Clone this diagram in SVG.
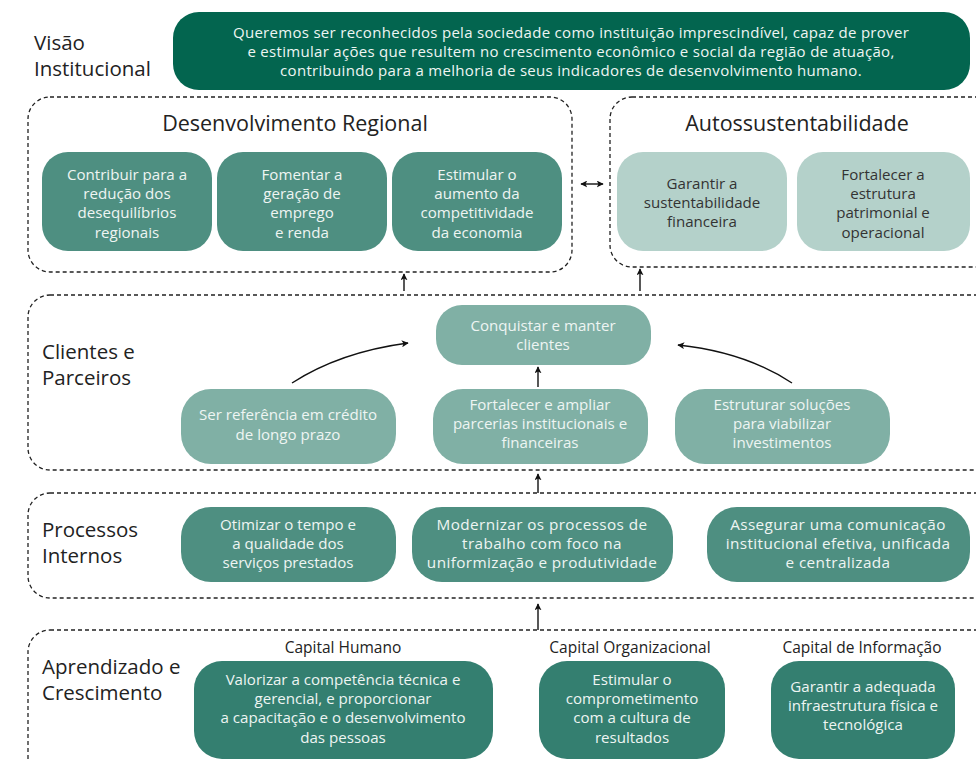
<svg xmlns="http://www.w3.org/2000/svg" width="976" height="761" viewBox="0 0 976 761">
<defs>
<marker id="ah" viewBox="0 0 10 10" refX="9" refY="5" markerWidth="7" markerHeight="7" orient="auto-start-reverse" markerUnits="userSpaceOnUse">
<path d="M0,0 L10,5 L0,10 L2.5,5 Z" fill="#111"/>
</marker>
<style>
text{font-family:"Open Sans","Lato","Liberation Sans",sans-serif;}
.lbl{font-size:20.5px;fill:#222;}
.ttl{font-size:21.5px;fill:#222;text-anchor:middle;}
.sub{font-size:15.5px;fill:#222;text-anchor:middle;}
.t{font-size:15.1px;text-anchor:middle;}
.tv{font-size:15px;letter-spacing:0.3px;}
.tp{font-size:15.3px;letter-spacing:0.4px;}
.tw{fill:#eef5f3;}
.td{fill:#333;}
.dash{fill:none;stroke:#222;stroke-width:1.3;stroke-dasharray:4 3;}
.con{fill:none;stroke:#111;stroke-width:1.4;}
.vis{fill:#03654f;}
.dev{fill:#4e8f81;}
.aut{fill:#b4d1ca;}
.cli{fill:#80b0a5;}
.pro{fill:#4e8f81;}
.apr{fill:#347f70;}
</style>
</defs>

<g id="visao">
<text class="lbl" x="34" y="50">Visão</text>
<text class="lbl" x="34" y="76">Institucional</text>
<rect class="vis" x="173" y="12" width="797" height="78" rx="26"/>
<text class="t tv tw" x="571" y="38">Queremos ser reconhecidos pela sociedade como instituição imprescindível, capaz de prover</text>
<text class="t tv tw" x="571" y="57">e estimular ações que resultem no crescimento econômico e social da região de atuação,</text>
<text class="t tv tw" x="571" y="76">contribuindo para a melhoria de seus indicadores de desenvolvimento humano.</text>
</g>

<g id="desenvolvimento-regional">
<rect class="dash" x="28" y="97" width="544" height="175" rx="22"/>
<text class="ttl" x="295" y="131">Desenvolvimento Regional</text>
</g>
<g id="dr1">
<rect class="dev" x="42" y="152" width="170" height="99" rx="26"/>
<text class="t tw" x="127" y="180">Contribuir para a</text>
<text class="t tw" x="127" y="199">redução dos</text>
<text class="t tw" x="127" y="218">desequilíbrios</text>
<text class="t tw" x="127" y="238">regionais</text>
</g>
<g id="dr2">
<rect class="dev" x="217" y="152" width="170" height="99" rx="26"/>
<text class="t tw" x="302" y="180">Fomentar a</text>
<text class="t tw" x="302" y="199">geração de</text>
<text class="t tw" x="302" y="218">emprego</text>
<text class="t tw" x="302" y="238">e renda</text>
</g>
<g id="dr3">
<rect class="dev" x="392" y="152" width="170" height="99" rx="26"/>
<text class="t tw" x="477" y="180">Estimular o</text>
<text class="t tw" x="477" y="199">aumento da</text>
<text class="t tw" x="477" y="218">competitividade</text>
<text class="t tw" x="477" y="238">da economia</text>
</g>

<g id="autossustentabilidade">
<rect class="dash" x="610" y="97" width="390" height="170" rx="22"/>
<text class="ttl" x="797" y="131">Autossustentabilidade</text>
</g>
<g id="as1">
<rect class="aut" x="617" y="152" width="170" height="99" rx="26"/>
<text class="t td" x="702" y="189">Garantir a</text>
<text class="t td" x="702" y="208">sustentabilidade</text>
<text class="t td" x="702" y="227">financeira</text>
</g>
<g id="as2">
<rect class="aut" x="797" y="152" width="173" height="99" rx="26"/>
<text class="t td" x="883" y="180">Fortalecer a</text>
<text class="t td" x="883" y="199">estrutura</text>
<text class="t td" x="883" y="218">patrimonial e</text>
<text class="t td" x="883" y="238">operacional</text>
</g>

<g id="clientes">
<rect class="dash" x="28" y="295" width="980" height="175" rx="22"/>
<text class="lbl" x="42" y="359">Clientes e</text>
<text class="lbl" x="42" y="385">Parceiros</text>
</g>
<g id="cl-top">
<rect class="cli" x="436" y="305" width="215" height="60" rx="26"/>
<text class="t tw" x="543" y="331">Conquistar e manter</text>
<text class="t tw" x="543" y="350">clientes</text>
</g>
<g id="cl1">
<rect class="cli" x="181" y="389" width="215" height="75" rx="30"/>
<text class="t tw" x="288" y="420">Ser referência em crédito</text>
<text class="t tw" x="288" y="440">de longo prazo</text>
</g>
<g id="cl2">
<rect class="cli" x="433" y="389" width="215" height="75" rx="30"/>
<text class="t tw" x="540" y="410">Fortalecer e ampliar</text>
<text class="t tw" x="540" y="429">parcerias institucionais e</text>
<text class="t tw" x="540" y="448">financeiras</text>
</g>
<g id="cl3">
<rect class="cli" x="675" y="389" width="215" height="75" rx="30"/>
<text class="t tw" x="782" y="410">Estruturar soluções</text>
<text class="t tw" x="782" y="429">para viabilizar</text>
<text class="t tw" x="782" y="448">investimentos</text>
</g>

<g id="processos">
<rect class="dash" x="28" y="493" width="980" height="105" rx="22"/>
<text class="lbl" x="42" y="537">Processos</text>
<text class="lbl" x="42" y="563">Internos</text>
</g>
<g id="pi1">
<rect class="pro" x="181" y="507" width="215" height="75" rx="30"/>
<text class="t tw" x="288" y="530">Otimizar o tempo e</text>
<text class="t tw" x="288" y="549">a qualidade dos</text>
<text class="t tw" x="288" y="568">serviços prestados</text>
</g>
<g id="pi2">
<rect class="pro" x="412" y="507" width="261" height="75" rx="30"/>
<text class="t tp tw" x="542" y="530">Modernizar os processos de</text>
<text class="t tp tw" x="542" y="549">trabalho com foco na</text>
<text class="t tp tw" x="542" y="568">uniformização e produtividade</text>
</g>
<g id="pi3">
<rect class="pro" x="707" y="507" width="263" height="75" rx="30"/>
<text class="t tp tw" x="838" y="530">Assegurar uma comunicação</text>
<text class="t tp tw" x="838" y="549">institucional efetiva, unificada</text>
<text class="t tp tw" x="838" y="568">e centralizada</text>
</g>

<g id="aprendizado">
<rect class="dash" x="28" y="630" width="980" height="160" rx="22"/>
<text class="lbl" x="42" y="674">Aprendizado e</text>
<text class="lbl" x="42" y="700">Crescimento</text>
<text class="sub" x="343" y="653">Capital Humano</text>
<text class="sub" x="630" y="653">Capital Organizacional</text>
<text class="sub" x="862" y="653">Capital de Informação</text>
</g>
<g id="ac1">
<rect class="apr" x="194" y="661" width="299" height="98" rx="28"/>
<text class="t tw" x="343" y="685">Valorizar a competência técnica e</text>
<text class="t tw" x="343" y="704">gerencial, e proporcionar</text>
<text class="t tw" x="343" y="723">a capacitação e o desenvolvimento</text>
<text class="t tw" x="343" y="743">das pessoas</text>
</g>
<g id="ac2">
<rect class="apr" x="539" y="661" width="186" height="98" rx="28"/>
<text class="t tw" x="632" y="685">Estimular o</text>
<text class="t tw" x="632" y="704">comprometimento</text>
<text class="t tw" x="632" y="723">com a cultura de</text>
<text class="t tw" x="632" y="743">resultados</text>
</g>
<g id="ac3">
<rect class="apr" x="771" y="661" width="184" height="98" rx="28"/>
<text class="t tw" x="863" y="692">Garantir a adequada</text>
<text class="t tw" x="863" y="711">infraestrutura física e</text>
<text class="t tw" x="863" y="730">tecnológica</text>
</g>

<g id="connectors">
<line class="con" x1="581" y1="184" x2="603" y2="184" marker-start="url(#ah)" marker-end="url(#ah)"/>
<line class="con" x1="404" y1="291" x2="404" y2="274" marker-end="url(#ah)"/>
<line class="con" x1="640" y1="291" x2="640" y2="269" marker-end="url(#ah)"/>
<path class="con" d="M292,383 Q340,352 408,343" marker-end="url(#ah)"/>
<path class="con" d="M792,383 Q745,352 678,345" marker-end="url(#ah)"/>
<line class="con" x1="538" y1="387" x2="538" y2="367" marker-end="url(#ah)"/>
<line class="con" x1="538" y1="493" x2="538" y2="474" marker-end="url(#ah)"/>
<line class="con" x1="538" y1="630" x2="538" y2="604" marker-end="url(#ah)"/>
</g>
</svg>
